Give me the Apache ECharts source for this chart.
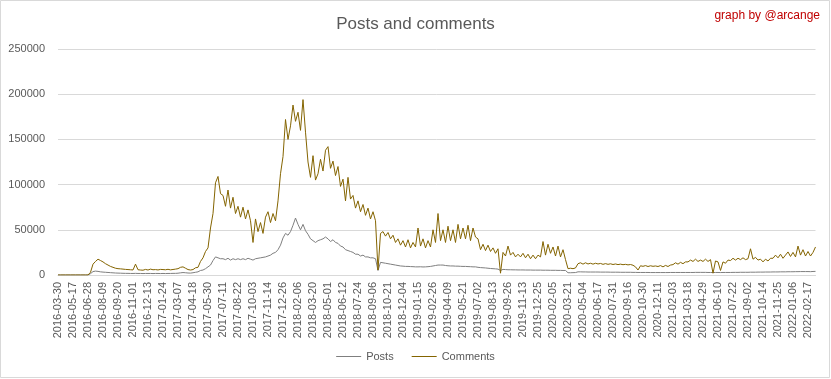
<!DOCTYPE html>
<html>
<head>
<meta charset="utf-8">
<script src="https://cdn.jsdelivr.net/npm/echarts@6/dist/echarts.min.js"></script>
<style>
html,body{margin:0;padding:0;background:#fff;}
#chart{width:831px;height:379px;}
</style>
</head>
<body>
<div id="chart"></div>
<script>
// Tick labels (every 42 daily categories in the source)
var tickLabels = [
  '2016-03-30','2016-05-17','2016-06-28','2016-08-09','2016-09-20','2016-11-01','2016-12-13',
  '2017-01-24','2017-03-07','2017-04-18','2017-05-30','2017-07-11','2017-08-22','2017-10-03',
  '2017-11-14','2017-12-26','2018-02-06','2018-03-20','2018-05-01','2018-06-12','2018-07-24',
  '2018-09-06','2018-10-21','2018-12-04','2019-01-15','2019-02-26','2019-04-09','2019-05-21',
  '2019-07-02','2019-08-13','2019-09-26','2019-11-13','2019-12-25','2020-02-05','2020-03-21',
  '2020-05-04','2020-06-17','2020-07-31','2020-09-16','2020-10-30','2020-12-11','2021-02-03',
  '2021-03-18','2021-04-29','2021-06-10','2021-07-22','2021-09-02','2021-10-14','2021-11-25',
  '2022-01-06','2022-02-17'
];
var pointsPerTick = 6;
var tailPoints = 3;

var seriesNames = ['Posts', 'Comments'];

var comments = [
  0,0,0,0,0,0,
  0,0,0,0,0,0,
  0,3000,12000,15000,17500,16000,
  14500,12500,11000,9500,8500,7500,
  7000,6800,6500,6200,6000,5800,
  5600,12000,5800,5500,5300,6200,
  5500,6500,5800,6000,5600,6200,
  6000,5800,6300,5700,6100,6500,
  7000,8500,9000,7500,6000,5500,
  6000,8000,8500,15000,19000,26000,
  30000,52000,68000,102000,109000,90000,
  88000,76000,94000,74000,86000,68000,
  76000,64000,75000,62000,72000,60000,
  36000,62000,48000,58000,46000,64000,
  70000,58000,68000,60000,82000,112000,
  131000,172000,150000,165000,188000,170000,
  180000,160000,194000,158000,125000,108000,
  132000,105000,112000,128000,115000,138000,
  142000,118000,126000,110000,120000,98000,
  106000,82000,108000,84000,88000,74000,
  82000,70000,78000,66000,74000,62000,
  70000,60000,5500,46000,48000,43000,
  47000,40000,44000,36000,40000,33000,
  38000,31000,39000,30000,36000,31000,
  52000,32000,40000,30000,38000,31000,
  50000,36000,68000,38000,50000,36000,
  54000,38000,50000,36000,56000,40000,
  52000,40000,55000,38000,52000,42000,
  40000,28000,34000,27000,33000,26000,
  30000,24000,29000,2000,25000,21000,
  32000,22000,25000,20000,23000,20000,
  24000,19000,23000,18000,22000,18000,
  22000,20000,37000,22000,34000,24000,
  31000,21000,32000,20000,28000,17000,
  7000,7500,7000,7800,12500,13500,
  12000,13500,12200,13000,12000,13000,
  12200,12800,11800,12600,11800,12400,
  11600,12200,11500,12000,11400,11800,
  11200,11600,10800,9000,5500,10200,
  9600,10400,9400,10200,9600,10000,
  9400,10400,9000,10600,9400,11000,
  11500,13500,12000,14000,12500,14500,
  14500,16500,15000,17500,15000,16500,
  15000,17500,15000,17000,2000,15500,
  14500,5000,14500,13000,16500,16000,
  18500,16500,18500,17000,19000,17000,
  18000,29000,17500,19500,16500,17500,
  14500,17500,15500,18500,18500,22000,
  19000,23000,18500,22000,25500,20500,
  25000,20000,32000,22000,28000,21000,
  26000,21000,25000,31000
];

var posts = [
  0,0,0,0,0,0,
  0,0,0,0,0,0,
  0,1500,3800,4300,4000,3500,
  3200,3000,2800,2600,2400,2200,
  2100,2000,1900,1800,1800,1700,
  1700,1800,1700,1700,1600,1700,
  1700,1700,1600,1700,1700,1600,
  1700,1600,1700,1700,1800,1800,
  2000,2400,2700,2500,2200,2100,
  2500,3000,3500,5000,5500,7000,
  9000,11000,16000,20000,19000,18000,
  18000,17000,18500,16500,18000,17000,
  18000,17000,18000,17000,18500,17500,
  16500,18000,18500,19000,19500,20000,
  21000,22000,24000,25000,28000,33000,
  41000,46000,44000,48000,55000,63000,
  56000,50000,56000,49000,45000,40000,
  38000,36000,38000,39000,40000,42000,
  40000,37000,39000,36000,35000,32000,
  31000,28000,27000,26000,25000,23000,
  23000,21000,22000,20000,20000,19000,
  19000,18000,5000,14000,13500,13000,
  12500,12000,11500,11000,10500,10000,
  9800,9500,9500,9300,9200,9000,
  9000,9100,8900,9000,9200,9500,
  10000,10500,11000,11000,11000,10500,
  10200,10000,10000,9800,9800,9600,
  9500,9500,9300,9200,9000,9000,
  8500,8200,8000,7800,7500,7200,
  7000,6800,6500,5000,6200,6000,
  5800,5800,5700,5700,5600,5600,
  5600,5500,5500,5500,5400,5400,
  5400,5400,5300,5300,5300,5200,
  5200,5200,5100,5100,5000,5000,
  2500,2500,2600,2700,3500,3500,
  3400,3400,3300,3300,3300,3300,
  3300,3200,3200,3200,3200,3100,
  3100,3100,3100,3000,3000,3000,
  3000,3000,2900,2900,2800,2800,
  2800,2800,2800,2700,2700,2700,
  2700,2700,2700,2700,2700,2800,
  2800,2800,2800,2800,2800,2800,
  2800,2800,2800,2900,2900,2900,
  2900,2900,2800,2800,2700,2800,
  2800,2700,2800,2800,2800,2800,
  2900,2900,2900,3000,3000,3000,
  3000,3100,3100,3100,3200,3200,
  3200,3300,3300,3300,3400,3400,
  3400,3500,3500,3500,3600,3600,
  3600,3700,3700,3800,3800,3800,
  3800,3700,3900,4000
];

// Build category list: each tick label followed by unlabeled in-between samples
var categories = [];
for (var i = 0; i < tickLabels.length; i++) {
  var n = (i === tickLabels.length - 1) ? tailPoints + 1 : pointsPerTick;
  for (var j = 0; j < n; j++) {
    categories.push(j === 0 ? tickLabels[i] : tickLabels[i] + '#' + j);
  }
}

var chart = echarts.init(document.getElementById('chart'), null, {renderer: 'canvas'});
var font = 'Liberation Sans, Arial, sans-serif';
chart.setOption({
  animation: false,
  backgroundColor: '#ffffff',
  title: {
    text: 'Posts and comments',
    left: 'center',
    top: 11,
    textStyle: {fontFamily: font, fontSize: 17, fontWeight: 'normal', color: '#595959'}
  },
  graphic: [
    {type: 'rect', shape: {x: 0.5, y: 0.5, width: 829, height: 377}, style: {fill: 'none', stroke: '#d9d9d9', lineWidth: 1}, silent: true},
    {type: 'text', right: 11, top: 10, style: {text: 'graph by @arcange', fill: '#c00000', font: '12px Liberation Sans, Arial, sans-serif'}}
  ],
  legend: {
    bottom: 12,
    left: 'center',
    itemWidth: 25,
    itemHeight: 1,
    itemGap: 18,
    icon: 'rect',
    textStyle: {fontFamily: font, fontSize: 11, color: '#595959'},
    data: seriesNames
  },
  grid: {left: 58, right: 15.5, top: 49, bottom: 104, containLabel: false},
  xAxis: {
    type: 'category',
    boundaryGap: false,
    data: categories,
    axisLine: {lineStyle: {color: '#d9d9d9'}},
    axisTick: {show: false},
    axisLabel: {
      interval: pointsPerTick - 1,
      rotate: 90,
      margin: 7,
      fontFamily: font,
      fontSize: 11,
      color: '#595959'
    }
  },
  yAxis: {
    type: 'value',
    min: 0,
    max: 250000,
    interval: 50000,
    axisLine: {show: false},
    axisTick: {show: false},
    splitLine: {lineStyle: {color: '#d9d9d9'}},
    axisLabel: {fontFamily: font, fontSize: 11, color: '#595959', margin: 13,
      formatter: function (v) { return String(v); }}
  },
  series: [
    {name: seriesNames[0], type: 'line', data: posts, showSymbol: false, symbol: 'none',
      lineStyle: {width: 1, color: '#7f7f7f'}, itemStyle: {color: '#7f7f7f'}},
    {name: seriesNames[1], type: 'line', data: comments, showSymbol: false, symbol: 'none',
      lineStyle: {width: 1, color: '#846400'}, itemStyle: {color: '#846400'}}
  ]
});
</script>
</body>
</html>
